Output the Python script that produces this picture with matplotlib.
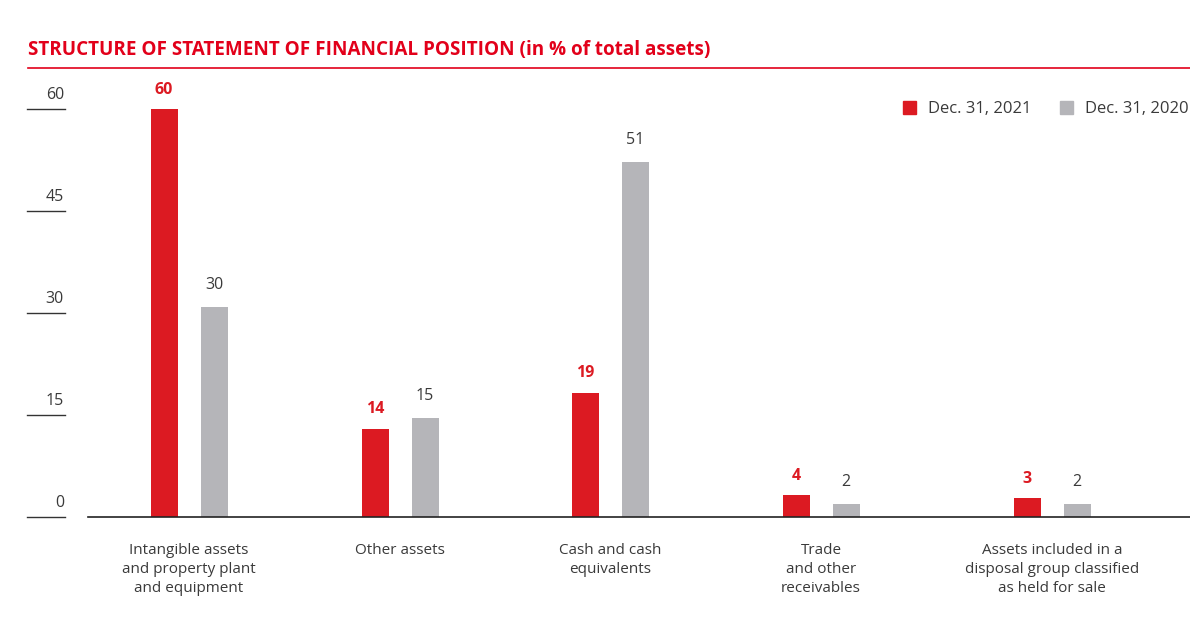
import matplotlib
matplotlib.use("Agg")
import matplotlib.pyplot as plt
from matplotlib.patches import Patch
from matplotlib.transforms import blended_transform_factory

# data
categories = ["Intangible assets\nand property plant\nand equipment",
              "Other assets",
              "Cash and cash\nequivalents",
              "Trade\nand other\nreceivables",
              "Assets included in a\ndisposal group classified\nas held for sale"]
val_2021 = [60, 13.0, 18.3, 3.2, 2.8]
val_2020 = [30.9, 14.6, 52.2, 1.9, 1.9]
lab_2021 = ["60", "14", "19", "4", "3"]
lab_2020 = ["30", "15", "51", "2", "2"]
yticks = [0, 15, 30, 45, 60]

# layout (pixel positions of group centres in the original)
centers = [189, 400, 610, 821, 1052]
half_gap = 25
bar_w = 27

RED = "#dc1a22"
GREY = "#b5b5b9"
TXT = "#3a3a3a"
plt.rcParams['font.family'] = ['Open Sans', 'DejaVu Sans']

W, H = 1190, 630
fig = plt.figure(figsize=(W / 100, H / 100), dpi=100)
ax = fig.add_axes([88 / W, 1 - 517 / H, 1 - 88 / W, (517 - 109) / H])
ax.set_xlim(88, 1190)
ax.set_ylim(0, 60)

x21 = [c - half_gap for c in centers]
x20 = [c + half_gap for c in centers]
ax.bar(x21, val_2021, width=bar_w, color=RED, zorder=2)
ax.bar(x20, val_2020, width=bar_w, color=GREY, zorder=2)

for x, v, t in zip(x21, val_2021, lab_2021):
    ax.annotate(t, (x, v), xytext=(0, 8), textcoords="offset points",
                ha="center", va="bottom", color=RED, fontsize=11.5,
                fontweight="bold", annotation_clip=False)
for x, v, t in zip(x20, val_2020, lab_2020):
    ax.annotate(t, (x, v), xytext=(0, 10), textcoords="offset points",
                ha="center", va="bottom", color=TXT, fontsize=11.5,
                annotation_clip=False)

for c, name in zip(centers, categories):
    ax.text(c, -3.8, name, ha="center", va="top", fontsize=11, color=TXT,
            linespacing=1.38, clip_on=False)

for s in ax.spines.values():
    s.set_visible(False)
ax.axhline(0, color="#222222", lw=1.2, zorder=3, clip_on=False)
ax.set_xticks([])
ax.set_yticks([])

# y ticks drawn to the left of the plot area
tr = blended_transform_factory(fig.transFigure, ax.transData)
for t in yticks:
    ax.plot([27 / W, 65 / W], [t, t], transform=tr, color="#333333", lw=1.0,
            clip_on=False)
    ax.text(64 / W, t + 0.9, str(t), transform=tr, ha="right", va="bottom",
            fontsize=11.5, color=TXT)

# title and rule
fig.text(28 / W, 1 - 50 / H, "STRUCTURE OF STATEMENT OF FINANCIAL POSITION (in % of total assets)",
         ha="left", va="center", color="#e2001a", fontsize=13.6, fontweight="bold")
fig.add_artist(plt.Line2D([28 / W, 1.0], [1 - 68 / H, 1 - 68 / H], color="#e2001a", lw=1.2))

handles = [Patch(color=RED, label="Dec. 31, 2021"), Patch(color=GREY, label="Dec. 31, 2020")]
fig.legend(handles=handles, loc="center right", bbox_to_anchor=(1.0, 1 - 109 / H), ncol=2,
           frameon=False, handlelength=0.8, handleheight=0.8, handletextpad=0.7,
           columnspacing=1.7, fontsize=12, labelcolor=TXT, borderaxespad=0.0,
           borderpad=0.1)

fig.savefig("out.png", dpi=100, facecolor="white")
